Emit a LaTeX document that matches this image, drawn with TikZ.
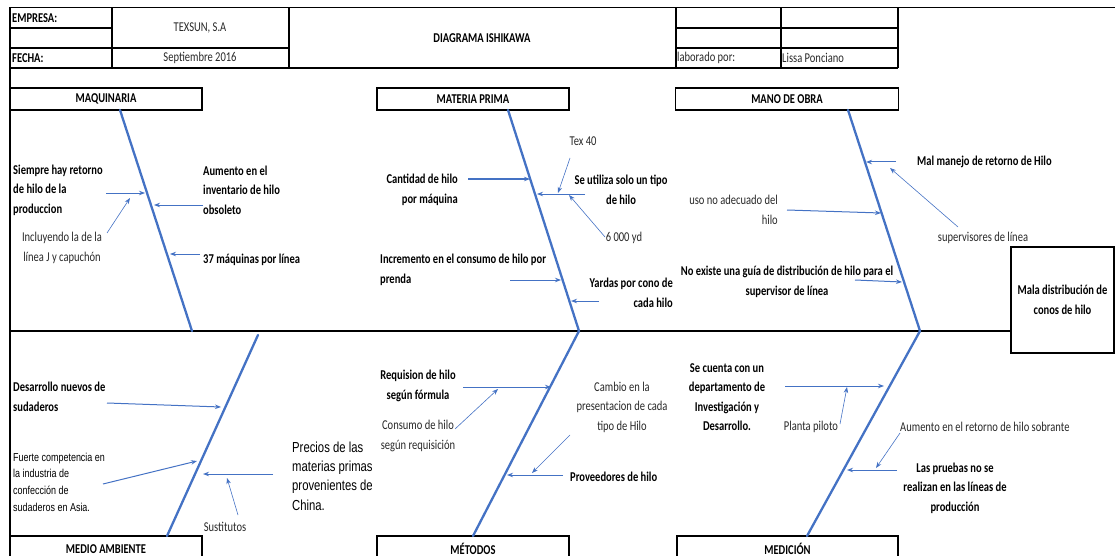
\documentclass[tikz,border=0pt]{standalone}
\usepackage{fontspec}
\setmainfont{Carlito}[FakeStretch=0.78]
\newfontfamily\arialf{Liberation Sans}[FakeStretch=0.78]
\usetikzlibrary{arrows.meta}
\definecolor{bone}{RGB}{68,114,196}
\definecolor{txtgray}{RGB}{40,40,40}
\tikzset{
  bonel/.style={draw=bone, line width=2.3pt, line cap=round},
  arr/.style={draw=bone, line width=1pt, -{Stealth[length=6pt,width=4.5pt]}},
  tarr/.style={draw=bone, line width=0.6pt, -{Stealth[length=6pt,width=4.5pt]}},
  frame/.style={line width=1.9pt},
  grid/.style={line width=1.2pt},
  lbl/.style={inner sep=0pt, align=left, text=txtgray, font=\fontsize{13.5}{19.5}\selectfont},
  blbl/.style={inner sep=0pt, align=left, text=black, font=\fontsize{13.5}{19.5}\selectfont\bfseries},
  catbox/.style={draw, line width=1.9pt, inner sep=0pt, font=\fontsize{13.5}{19.5}\selectfont\bfseries},
  ariall/.style={inner sep=0pt, align=left, font=\arialf\fontsize{11.5}{16.7}\selectfont},
  arialb/.style={inner sep=0pt, align=left, font=\arialf\fontsize{14.5}{19.3}\selectfont}
}
\begin{document}
\begin{tikzpicture}[x=1pt,y=-1pt]
\useasboundingbox (0,0) rectangle (1115,556);
% ---------- header table ----------
\draw[frame] (10,7.5) -- (1115,7.5);
\draw[frame] (10,7.5) -- (10,556);
\draw[grid] (112,8) -- (112,68);
\draw[grid] (289,8) -- (289,68);
\draw[frame] (676,8) -- (676,68);
\draw[grid] (781,8) -- (781,68);
\draw[frame] (898,8) -- (898,68);
\draw[grid] (10,28) -- (112,28);
\draw[grid] (676,28) -- (898,28);
\draw[grid] (10,48) -- (289,48);
\draw[grid] (676,48) -- (898,48);
\draw[frame] (10,68) -- (898,68);
\node[blbl, anchor=west] (empresa) at (12,18) {EMPRESA:};
\node[blbl, anchor=west] (fecha) at (12,58) {FECHA:};
\node[lbl] (texsun) at (200,28) {TEXSUN, S.A};
\node[lbl] (sept) at (200,58) {Septiembre 2016};
\node[blbl] (title) at (482,38) {DIAGRAMA ISHIKAWA};
\node[lbl, anchor=west] (elab) at (677,58) {laborado por:};
\node[lbl, anchor=west] (lissa) at (782,58) {Lissa Ponciano};
% ---------- category boxes ----------
\node[catbox, minimum width=192, minimum height=22] (maq) at (106,99) {MAQUINARIA};
\node[catbox, minimum width=192, minimum height=22] (mat) at (473,99) {MATERIA PRIMA};
\node[catbox, minimum width=223, minimum height=22] (mano) at (787,99) {MANO DE OBRA};
\node[catbox, minimum width=192, minimum height=26] (medio) at (106,549) {MEDIO AMBIENTE};
\node[catbox, minimum width=192, minimum height=26] (met) at (473,549) {MÉTODOS};
\node[catbox, minimum width=221, minimum height=26] (medi) at (787.5,549) {MEDICIÓN};
\node[catbox, minimum width=103, minimum height=106, align=center] (mala) at (1062.5,300) {Mala distribución de\\conos de hilo};
% ---------- spine ----------
\coordinate (spL) at (10,331);
\draw[frame] (spL) -- (spL -| mala.west);
% ---------- bones ----------
\coordinate (b1t) at (120,110); \coordinate (b1b) at (192,331);
\coordinate (b2t) at (508,110); \coordinate (b2b) at (579,331);
\coordinate (b3t) at (848,110); \coordinate (b3b) at (920,331);
\coordinate (b4t) at (258,335); \coordinate (b4b) at (167,536);
\coordinate (b5t) at (579,331); \coordinate (b5b) at (473,536);
\coordinate (b6t) at (920,331); \coordinate (b6b) at (807,536);
\draw[bonel] (b1t) -- (b1b);
\draw[bonel] (b2t) -- (b2b);
\draw[bonel] (b3t) -- (b3b);
\draw[bonel] (b4t) -- (b4b);
\draw[bonel] (b5t) -- (b5b);
\draw[bonel] (b6t) -- (b6b);
% ---------- MAQUINARIA ----------
\node[blbl, anchor=west] (t1) at (13,190) {Siempre hay retorno\\de hilo de la\\produccion};
\node[lbl, align=center] (t2) at (62,248) {Incluyendo la de la\\línea J y capuchón};
\node[blbl, anchor=west] (t3) at (203,190) {Aumento en el\\inventario de hilo\\obsoleto};
\node[blbl, anchor=west] (t4) at (203,260) {37 máquinas por línea};
\coordinate (a1s) at (106,193); \coordinate (a1e) at (145,193);
\coordinate (a2s) at (107,233); \coordinate (a2e) at (130,198);
\coordinate (a3s) at (203,205); \coordinate (a3e) at (154,205);
\coordinate (a4s) at (200,254); \coordinate (a4e) at (170,254);
\draw[arr] (a1s) -- (a1e);
\draw[tarr] (a2s) -- (a2e);
\draw[arr] (a3s) -- (a3e);
\draw[arr] (a4s) -- (a4e);
% ---------- MATERIA PRIMA ----------
\node[lbl] (t5) at (583,141) {Tex 40};
\node[blbl, anchor=east, align=right] (t6) at (458,190) {Cantidad de hilo\\por máquina};
\node[blbl, align=center] (t7) at (621,190) {Se utiliza solo un tipo\\de hilo};
\node[lbl] (t8) at (624,238) {6\,000 yd};
\node[blbl, anchor=west] (t9) at (380,270) {Incremento en el consumo de hilo por\\prenda};
\node[blbl, anchor=east, align=right] (t10) at (673,293) {Yardas por cono de\\cada hilo};
\coordinate (a5s) at (468,179); \coordinate (a5e) at (530,179);
\coordinate (a6s) at (585,194); \coordinate (a6e) at (537,194);
\coordinate (a7s) at (570,158); \coordinate (a7e) at (558,193);
\coordinate (a8s) at (605,237); \coordinate (a8e) at (569,195);
\coordinate (a9s) at (510,280); \coordinate (a9e) at (561,280);
\coordinate (a10s) at (599,301); \coordinate (a10e) at (571,301);
\draw[arr] (a5s) -- (a5e);
\draw[arr] (a6s) -- (a6e);
\draw[tarr] (a7s) -- (a7e);
\draw[tarr] (a8s) -- (a8e);
\draw[arr] (a9s) -- (a9e);
\draw[arr] (a10s) -- (a10e);
% ---------- MANO DE OBRA ----------
\node[blbl, anchor=west] (t11) at (917,162) {Mal manejo de retorno de Hilo};
\node[lbl] (t12) at (983,238) {supervisores de línea};
\node[lbl, anchor=east, align=right] (t13) at (778,210) {uso no adecuado del\\hilo};
\node[blbl, align=center] (t14) at (787,282) {No existe una guía de distribución de hilo para el\\supervisor de línea};
\coordinate (a11s) at (896,162); \coordinate (a11e) at (866,162);
\coordinate (a12s) at (958,227); \coordinate (a12e) at (890,168);
\coordinate (a13s) at (787,210); \coordinate (a13e) at (881,213);
\coordinate (a14s) at (855,280); \coordinate (a14e) at (902,282);
\draw[arr] (a11s) -- (a11e);
\draw[tarr] (a12s) -- (a12e);
\draw[arr] (a13s) -- (a13e);
\draw[arr] (a14s) -- (a14e);
% ---------- MEDIO AMBIENTE ----------
\node[blbl, anchor=west] (t16) at (13,397) {Desarrollo nuevos de\\sudaderos};
\node[ariall, anchor=west] (t17) at (13,482) {Fuerte competencia en\\la industria de\\confección de\\sudaderos en Asia.};
\node[arialb, anchor=west] (t18) at (292,476) {Precios de las\\materias primas\\provenientes de\\China.};
\node[lbl] (t19) at (225,527) {Sustitutos};
\coordinate (a15s) at (107,403); \coordinate (a15e) at (221,407);
\coordinate (a16s) at (103,484); \coordinate (a16e) at (197,461);
\coordinate (a17s) at (273,474); \coordinate (a17e) at (203,474);
\coordinate (a18s) at (238,515); \coordinate (a18e) at (227,478);
\draw[arr] (a15s) -- (a15e);
\draw[arr] (a16s) -- (a16e);
\draw[arr] (a17s) -- (a17e);
\draw[tarr] (a18s) -- (a18e);
% ---------- METODOS ----------
\node[blbl, align=center] (t20) at (418,386) {Requision de hilo\\según fórmula};
\node[lbl, align=center] (t21) at (418,436) {Consumo de hilo\\según requisición};
\node[lbl, align=center] (t22) at (622,407) {Cambio en la\\presentacion de cada\\tipo de Hilo};
\node[blbl, anchor=west] (t23) at (570,477) {Proveedores de hilo};
\coordinate (a19s) at (463,387); \coordinate (a19e) at (551,387);
\coordinate (a20s) at (455,429); \coordinate (a20e) at (498,389);
\coordinate (a21s) at (570,435); \coordinate (a21e) at (532,473);
\coordinate (a22s) at (563,475); \coordinate (a22e) at (507,475);
\draw[arr] (a19s) -- (a19e);
\draw[tarr] (a20s) -- (a20e);
\draw[tarr] (a21s) -- (a21e);
\draw[arr] (a22s) -- (a22e);
% ---------- MEDICION ----------
\node[blbl, align=center] (t24) at (727,397) {Se cuenta con un\\departamento de\\Investigación y\\Desarrollo.};
\node[lbl] (t25) at (811,427) {Planta piloto};
\node[lbl, anchor=west] (t26) at (900,427) {Aumento en el retorno de hilo sobrante};
\node[blbl, align=center] (t27) at (955,488) {Las pruebas no se\\realizan en las líneas de\\producción};
\coordinate (a23s) at (785,386); \coordinate (a23e) at (884,386);
\coordinate (a24s) at (840,424); \coordinate (a24e) at (847,387);
\coordinate (a25s) at (900,433); \coordinate (a25e) at (876,468);
\coordinate (a26s) at (897,470); \coordinate (a26e) at (847,470);
\draw[arr] (a23s) -- (a23e);
\draw[tarr] (a24s) -- (a24e);
\draw[tarr] (a25s) -- (a25e);
\draw[arr] (a26s) -- (a26e);
\end{tikzpicture}
\end{document}
